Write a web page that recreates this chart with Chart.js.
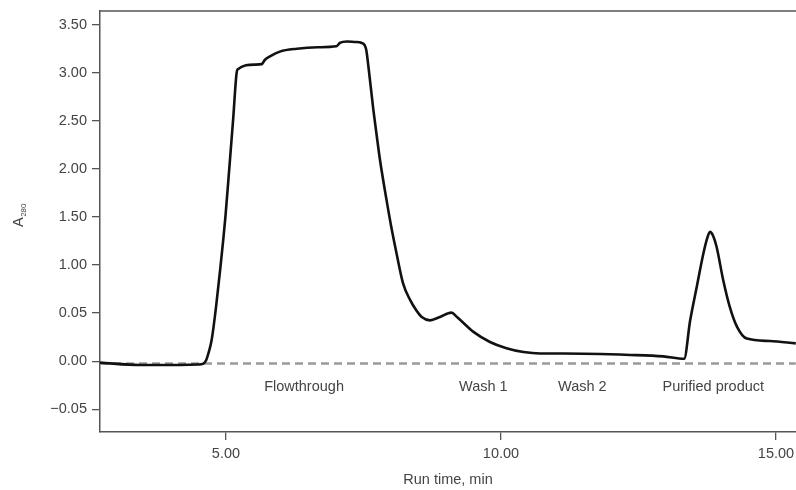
<!DOCTYPE html>
<html>
<head>
<meta charset="utf-8">
<title>A280 run</title>
<script src="https://cdn.jsdelivr.net/npm/chart.js@4.4.1/dist/chart.umd.min.js"></script>
<style>
  html, body { margin: 0; padding: 0; background: #fff; }
  canvas { display: block; }
</style>
</head>
<body>
<canvas id="runChart" width="796" height="490"></canvas>
<script>
// Run time in minutes
const runTime = [
    2.71, 3.44, 4.16, 4.49, 4.59, 4.64, 4.68, 4.74, 4.82, 4.90,
    4.95, 4.99, 5.06, 5.13, 5.19, 5.21, 5.53, 5.65, 5.71, 5.80,
    5.98, 6.29, 6.67, 7.01, 7.07, 7.20, 7.35, 7.47, 7.55, 7.59,
    7.68, 7.74, 7.80, 7.92, 8.00, 8.09, 8.22, 8.35, 8.46, 8.56,
    8.71, 8.89, 9.10, 9.20, 9.50, 9.80, 10.10, 10.41, 10.71, 11.13,
    12.35, 12.95, 13.33, 13.44, 13.56, 13.68, 13.75, 13.80, 13.86, 13.92,
    14.04, 14.16, 14.29, 14.47, 14.89, 15.36
];
// A280 read as position on the (broken) y axis: 0 = -0.05, 1 = 0.00, 2 = 0.05, 3 = 1.00 ... 8 = 3.50
const a280Pos = [
    0.97, 0.92, 0.92, 0.93, 0.95, 1.02, 1.16, 1.44, 2.13, 2.96,
    3.52, 4.00, 5.00, 6.02, 6.96, 7.07, 7.17, 7.18, 7.27, 7.34,
    7.44, 7.50, 7.53, 7.55, 7.62, 7.65, 7.64, 7.62, 7.48, 7.13,
    6.23, 5.70, 5.19, 4.35, 3.83, 3.31, 2.62, 2.27, 2.06, 1.92,
    1.85, 1.92, 2.01, 1.92, 1.61, 1.40, 1.27, 1.19, 1.16, 1.16,
    1.13, 1.10, 1.05, 1.85, 2.55, 3.24, 3.56, 3.69, 3.60, 3.38,
    2.69, 2.13, 1.72, 1.47, 1.42, 1.37
];
const yTickLabels = ['\u22120.05', '0.00', '0.05', '1.00', '1.50', '2.00', '2.50', '3.00', '3.50'];
const xTickValues = [5, 10, 15];
const baselinePos = 0.95;

const phaseLabels = ['Flowthrough', 'Wash 1', 'Wash 2', 'Purified product'];
const phaseTimes = [6.42, 9.68, 11.48, 13.86];
const phaseLabelPos = 0.46;

const FONT = '"Liberation Sans", Arial, Helvetica, sans-serif';
const TEXT = '#444';
const AXIS = '#555';

// top frame line, phase names and the A280 title (needs a subscript)
const extras = {
    id: 'extras',
    afterDraw(chart) {
        const { ctx, chartArea, scales } = chart;
        ctx.save();
        ctx.strokeStyle = AXIS;
        ctx.lineWidth = 1.5;
        ctx.beginPath();
        ctx.moveTo(chartArea.left, chartArea.top);
        ctx.lineTo(chartArea.right, chartArea.top);
        ctx.stroke();

        ctx.fillStyle = TEXT;
        ctx.font = '14.5px ' + FONT;
        ctx.textAlign = 'center';
        ctx.textBaseline = 'middle';
        phaseLabels.forEach(function(t, i) {
            ctx.fillText(t, scales.x.getPixelForValue(phaseTimes[i]), scales.y.getPixelForValue(phaseLabelPos));
        });

        ctx.translate(23, 227);
        ctx.rotate(-Math.PI / 2);
        ctx.textAlign = 'left';
        ctx.textBaseline = 'alphabetic';
        ctx.font = '14.5px ' + FONT;
        ctx.fillText('A', 0, 0);
        const w = ctx.measureText('A').width;
        ctx.font = '8px ' + FONT;
        ctx.fillText('280', w + 0.5, 3);
        ctx.restore();
    }
};

const ctx = document.getElementById('runChart').getContext('2d');
const runChart = new Chart(ctx, {
    type: 'line',
    data: {
        datasets: [
            {
                data: runTime.map((t, i) => ({ x: t, y: a280Pos[i] })),
                borderColor: '#111',
                borderWidth: 2.6,
                pointRadius: 0,
                cubicInterpolationMode: 'monotone',
                fill: false
            },
            {
                data: [{ x: runTime[0], y: baselinePos }, { x: runTime[runTime.length - 1], y: baselinePos }],
                borderColor: '#9a9a9a',
                borderWidth: 2.5,
                borderDash: [8, 5],
                pointRadius: 0,
                fill: false
            }
        ]
    },
    options: {
        responsive: false,
        animation: false,
        devicePixelRatio: 1,
        layout: { padding: { top: 11, left: 0, right: 0, bottom: 0 } },
        plugins: {
            legend: { display: false },
            tooltip: { enabled: false }
        },
        scales: {
            x: {
                type: 'linear',
                min: 2.71,
                max: 15.364,
                afterBuildTicks: function(scale) {
                    scale.ticks = xTickValues.map(v => ({ value: v }));
                },
                afterFit: function(scale) {
                    scale.height = 58;
                    scale.paddingLeft = 0;
                    scale.paddingRight = 0;
                },
                ticks: {
                    padding: 5,
                    color: TEXT,
                    font: { family: FONT, size: 14.5 },
                    maxRotation: 0,
                    callback: v => v.toFixed(2)
                },
                grid: {
                    drawOnChartArea: false,
                    drawTicks: true,
                    tickLength: 8,
                    color: AXIS,
                    lineWidth: 1.3
                },
                border: { display: true, color: AXIS, width: 1.5 },
                title: {
                    display: true,
                    text: 'Run time, min',
                    color: TEXT,
                    font: { family: FONT, size: 14.5 },
                    padding: { top: 0, bottom: 1 }
                }
            },
            y: {
                type: 'linear',
                min: -0.473,
                max: 8.285,
                afterBuildTicks: function(scale) {
                    scale.ticks = yTickLabels.map((_, i) => ({ value: i }));
                },
                afterFit: function(scale) {
                    scale.width = 100;
                    scale.paddingTop = 0;
                    scale.paddingBottom = 0;
                },
                ticks: {
                    padding: 5,
                    color: TEXT,
                    font: { family: FONT, size: 14.5 },
                    callback: v => yTickLabels[v]
                },
                grid: {
                    drawOnChartArea: false,
                    drawTicks: true,
                    tickLength: 8,
                    color: AXIS,
                    lineWidth: 1.3
                },
                border: { display: true, color: AXIS, width: 1.5 }
            }
        }
    },
    plugins: [extras]
});
</script>
</body>
</html>
